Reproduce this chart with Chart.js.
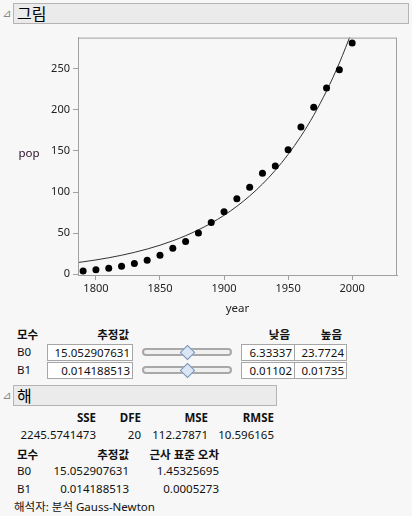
<!DOCTYPE html>
<html>
<head>
<meta charset="utf-8">
<script src="https://cdn.jsdelivr.net/npm/chart.js@4"></script>
<style>
  body { margin: 0; width: 412px; height: 516px; background: #f7f7f7; position: relative; overflow: hidden;
         font-family: "Noto Sans", "Noto Sans CJK KR", sans-serif; font-size: 11.5px; color: #111; }
  .a { position: absolute; line-height: 16px; white-space: nowrap; }
  .r { text-align: right; width: 140px; }
  .b { font-weight: bold; }
  .tri { position: absolute; left: 2px; font-family: "DejaVu Sans"; font-size: 11px; color: #888; }
  .bar { position: absolute; left: 13px; background: #ebebeb; border: 1px solid #b4b4b4; box-sizing: border-box;
         font-family: "Noto Sans CJK KR"; font-size: 16px; line-height: 19px; padding-left: 3px; color: #000; }
  .box { position: absolute; height: 17px; background: #fff; border: 1px solid #a6a6a6; box-sizing: border-box;
         text-align: right; padding-right: 2px; line-height: 15px; }
  .track { position: absolute; left: 142px; width: 90px; height: 8px; border: 2px solid #a8a8a8; border-radius: 4px;
           box-sizing: border-box; background: #f0f0f0; }
  .thumb { position: absolute; width: 9px; height: 9px; background: #dbe6f5; border: 1px solid #7b93b8; transform: rotate(45deg); }
  #wrap { position: absolute; left: 0; top: 28px; width: 412px; height: 295px; }
</style>
</head>
<body>
<div class="tri" style="top:7px">⊿</div>
<div class="bar" style="top:3px;width:396px;height:21px">그림</div>

<div id="wrap"><canvas id="popChart"></canvas></div>

<!-- parameter table -->
<div class="a b" style="left:17px;top:327px">모수</div>
<div class="a b r" style="left:-11px;top:327px">추정값</div>
<div class="a b r" style="left:150px;top:327px">낮음</div>
<div class="a b r" style="left:202px;top:327px">높음</div>

<div class="a" style="left:17px;top:344px">B0</div>
<div class="box" style="left:47px;top:344px;width:86px">15.052907631</div>
<div class="track" style="top:348px"></div>
<div class="thumb" style="left:182px;top:347px"></div>
<div class="box" style="left:241px;top:344px;width:54px">6.33337</div>
<div class="box" style="left:294px;top:344px;width:53px">23.7724</div>

<div class="a" style="left:17px;top:362px">B1</div>
<div class="box" style="left:47px;top:362px;width:86px">0.014188513</div>
<div class="track" style="top:366px"></div>
<div class="thumb" style="left:182px;top:365px"></div>
<div class="box" style="left:241px;top:362px;width:54px">0.01102</div>
<div class="box" style="left:294px;top:362px;width:53px">0.01735</div>

<!-- solution -->
<div class="tri" style="top:389px">⊿</div>
<div class="bar" style="top:385px;width:264px;height:21px">해</div>

<div class="a b r" style="left:-44px;top:410px">SSE</div>
<div class="a b r" style="left:1px;top:410px">DFE</div>
<div class="a b r" style="left:68px;top:410px">MSE</div>
<div class="a b r" style="left:134px;top:410px">RMSE</div>
<div class="a r" style="left:-44px;top:427px">2245.5741473</div>
<div class="a r" style="left:1px;top:427px">20</div>
<div class="a r" style="left:68px;top:427px">112.27871</div>
<div class="a r" style="left:134px;top:427px">10.596165</div>

<div class="a b" style="left:17px;top:447px">모수</div>
<div class="a b r" style="left:-11px;top:447px">추정값</div>
<div class="a b r" style="left:79px;top:447px">근사 표준 오차</div>
<div class="a" style="left:17px;top:463px">B0</div>
<div class="a r" style="left:-11px;top:463px">15.052907631</div>
<div class="a r" style="left:79px;top:463px">1.45325695</div>
<div class="a" style="left:17px;top:481px">B1</div>
<div class="a r" style="left:-11px;top:481px">0.014188513</div>
<div class="a r" style="left:79px;top:481px">0.0005273</div>
<div class="a" style="left:14px;top:499px">해석자: 분석 Gauss-Newton</div>

<script>
// census points
const years = [1790, 1800, 1810, 1820, 1830, 1840, 1850, 1860, 1870, 1880, 1890,
               1900, 1910, 1920, 1930, 1940, 1950, 1960, 1970, 1980, 1990, 2000];
const pop = [3.93, 5.31, 7.24, 9.64, 12.87, 17.07, 23.19, 31.44, 39.82, 50.16, 62.95,
             75.99, 91.97, 105.71, 122.78, 131.67, 151.33, 179.32, 203.3, 226.54, 248.71, 281.42];

// fitted curve
const curveYears = [1786, 1790, 1800, 1810, 1820, 1830, 1840, 1850, 1860, 1870, 1880, 1890,
                    1900, 1910, 1920, 1930, 1940, 1950, 1960, 1970, 1980, 1990, 2000];
const curvePop = [14.2, 15.05, 17.35, 19.99, 23.04, 26.55, 30.6, 35.26, 40.64, 46.83, 53.97, 62.2,
                  71.69, 82.61, 95.21, 109.72, 126.45, 145.72, 167.94, 193.53, 223.04, 257.04, 296.2];

const xTicks = [1800, 1850, 1900, 1950, 2000];
const yTicks = [0, 50, 100, 150, 200, 250];

const axisGray = '#a0a0a0';
const tickFont = { family: 'Noto Sans', size: 11 };

const frame = {
  id: 'frame',
  afterDraw(chart) {
    const { ctx, chartArea: a } = chart;
    ctx.save();
    ctx.strokeStyle = axisGray;
    ctx.lineWidth = 1;
    ctx.strokeRect(a.left + 0.5, a.top + 0.5, a.right - a.left - 1, a.bottom - a.top);
    ctx.font = '11.5px "Noto Sans"';
    ctx.textAlign = 'center';
    ctx.textBaseline = 'middle';
    ctx.fillStyle = '#2a0f2a';
    ctx.fillText('pop', 29, 126);
    ctx.fillStyle = '#222';
    ctx.fillText('year', (a.left + a.right) / 2, 281);
    ctx.restore();
  }
};

new Chart(document.getElementById('popChart'), {
  type: 'scatter',
  data: {
    datasets: [{
      data: years.map((y, i) => ({ x: y, y: pop[i] })),
      backgroundColor: '#000',
      borderWidth: 0,
      pointRadius: 3.5
    }, {
      type: 'line',
      data: curveYears.map((y, i) => ({ x: y, y: curvePop[i] })),
      borderColor: '#333',
      borderWidth: 1,
      pointRadius: 0,
      cubicInterpolationMode: 'monotone',
      fill: false
    }]
  },
  options: {
    responsive: true,
    maintainAspectRatio: false,
    animation: false,
    layout: { padding: { left: 0, right: 15, top: 7, bottom: 0 } },
    plugins: { legend: { display: false }, tooltip: { enabled: false } },
    scales: {
      x: {
        type: 'linear',
        min: 1786,
        max: 2035,
        afterFit: s => { s.height = 48; },
        afterBuildTicks: s => { s.ticks = xTicks.map(v => ({ value: v })); },
        ticks: { callback: v => String(v), color: '#222', font: tickFont, padding: 2, maxRotation: 0 },
        grid: { drawOnChartArea: false, tickLength: 5, color: axisGray },
        border: { color: axisGray }
      },
      y: {
        min: -1,
        max: 288,
        afterFit: s => { s.width = 78; },
        afterBuildTicks: s => { s.ticks = yTicks.map(v => ({ value: v })); },
        ticks: { color: '#222', font: tickFont, padding: 3 },
        grid: { drawOnChartArea: false, tickLength: 5, color: axisGray },
        border: { color: axisGray }
      }
    }
  },
  plugins: [frame]
});
</script>
</body>
</html>
